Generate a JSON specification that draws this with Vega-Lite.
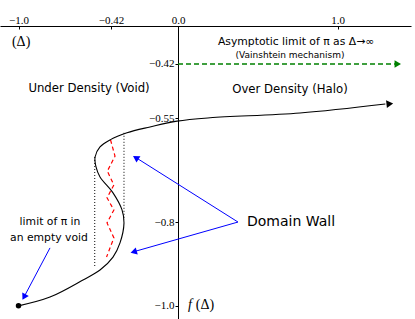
{
  "$schema": "https://vega.github.io/schema/vega-lite/v6.json",
  "width": 411,
  "height": 293,
  "autosize": {"type": "none"},
  "padding": {"left": 0, "top": 26, "right": 4, "bottom": 0},
  "background": "white",
  "config": {"view": {"stroke": null}, "axis": {"grid": false}},
  "datasets": {
    "curve": [
      {"i": 1, "x": -1.0, "y": -1.0},
      {"i": 2, "x": -0.8025, "y": -0.979},
      {"i": 3, "x": -0.5956, "y": -0.938},
      {"i": 4, "x": -0.489, "y": -0.914},
      {"i": 5, "x": -0.4075, "y": -0.883},
      {"i": 6, "x": -0.3636, "y": -0.849},
      {"i": 7, "x": -0.3386, "y": -0.801},
      {"i": 8, "x": -0.351, "y": -0.77},
      {"i": 9, "x": -0.4075, "y": -0.729},
      {"i": 10, "x": -0.489, "y": -0.691},
      {"i": 11, "x": -0.514, "y": -0.667},
      {"i": 12, "x": -0.52, "y": -0.643},
      {"i": 13, "x": -0.489, "y": -0.619},
      {"i": 14, "x": -0.426, "y": -0.602},
      {"i": 15, "x": -0.32, "y": -0.585},
      {"i": 16, "x": -0.1755, "y": -0.571},
      {"i": 17, "x": -0.006, "y": -0.557},
      {"i": 18, "x": 0.201, "y": -0.549},
      {"i": 19, "x": 0.765, "y": -0.5375},
      {"i": 20, "x": 1.3, "y": -0.516}
    ],
    "zig": [
      {"i": 1, "x": -0.423, "y": -0.602},
      {"i": 2, "x": -0.395, "y": -0.641},
      {"i": 3, "x": -0.443, "y": -0.677},
      {"i": 4, "x": -0.402, "y": -0.71},
      {"i": 5, "x": -0.445, "y": -0.741},
      {"i": 6, "x": -0.402, "y": -0.77},
      {"i": 7, "x": -0.445, "y": -0.801},
      {"i": 8, "x": -0.402, "y": -0.837},
      {"i": 9, "x": -0.448, "y": -0.883}
    ],
    "dotted": [
      {"g": "left", "i": 1, "x": -0.522, "y": -0.643},
      {"g": "left", "i": 2, "x": -0.522, "y": -0.909},
      {"g": "right", "i": 1, "x": -0.3386, "y": -0.585},
      {"g": "right", "i": 2, "x": -0.3386, "y": -0.794}
    ],
    "green": [
      {"i": 1, "x": 0.0, "y": -0.42},
      {"i": 2, "x": 1.36, "y": -0.42}
    ],
    "blue": [
      {"g": "dw1", "i": 1, "x": 0.376, "y": -0.799},
      {"g": "dw1", "i": 2, "x": -0.27, "y": -0.643},
      {"g": "dw2", "i": 1, "x": 0.376, "y": -0.799},
      {"g": "dw2", "i": 2, "x": -0.285, "y": -0.871},
      {"g": "lim", "i": 1, "x": -0.8025, "y": -0.861},
      {"g": "lim", "i": 2, "x": -0.97, "y": -0.982}
    ],
    "dot": [{"x": -1.0, "y": -1.0}],
    "headBlack": [{"x": 1.328, "y": -0.5155}],
    "headGreen": [{"x": 1.378, "y": -0.42}],
    "headDW1": [{"x": -0.265, "y": -0.6445}],
    "headDW2": [{"x": -0.278, "y": -0.8705}],
    "headLim": [{"x": -0.9655, "y": -0.9788}],
    "textMid": [
      {"x": -0.558, "y": -0.4776, "label": "Under Density (Void)"},
      {"x": 0.702, "y": -0.48, "label": "Over Density (Halo)"}
    ],
    "textSmall": [
      {"x": 0.74, "y": -0.367, "label": "Asymptotic limit of π as Δ→∞"},
      {"x": -0.8025, "y": -0.799, "label": "limit of π in"},
      {"x": -0.809, "y": -0.837, "label": "an empty void"}
    ],
    "textTiny": [
      {"x": 0.702, "y": -0.398, "label": "(Vainshtein mechanism)"}
    ],
    "textBig": [
      {"x": 0.4326, "y": -0.799, "label": "Domain Wall"}
    ],
    "textSerif": [
      {"x": -1.041, "y": -0.367, "label": "(Δ)"},
      {"x": 0.112, "y": -0.998, "label": "(Δ)"}
    ],
    "textItalic": [
      {"x": 0.0627, "y": -0.998, "label": "f"}
    ]
  },
  "encoding": {
    "x": {
      "field": "x",
      "type": "quantitative",
      "scale": {"domain": [-1.116, 1.4608], "nice": false, "zero": false},
      "axis": {
        "orient": "top",
        "values": [-1, -0.42, 0, 1],
        "title": null,
        "domainColor": "black",
        "tickColor": "black",
        "tickSize": -3,
        "labelPadding": 4,
        "labelFont": "Liberation Serif",
        "labelFontSize": 11,
        "labelColor": "black",
        "labelFlush": false,
        "labelOverlap": false,
        "labelExpr": "datum.value == -0.42 ? '−0.42' : replace(format(datum.value, '.1f'), '-', '−')"
      }
    },
    "y": {
      "field": "y",
      "type": "quantitative",
      "scale": {"domain": [-1.0315, -0.3289], "nice": false, "zero": false},
      "axis": {
        "orient": "left",
        "offset": -178,
        "values": [-0.42, -0.55, -0.8, -1.0],
        "title": null,
        "domainColor": "black",
        "tickColor": "black",
        "tickSize": 3,
        "labelPadding": 1,
        "labelFont": "Liberation Serif",
        "labelFontSize": 11,
        "labelColor": "black",
        "labelFlush": false,
        "labelOverlap": false,
        "labelExpr": "datum.value == -0.8 ? '−0.8' : datum.value == -1 ? '−1.0' : replace(format(datum.value, '.2f'), '-', '−')"
      }
    }
  },
  "layer": [
    {
      "data": {"name": "green"},
      "mark": {"type": "line", "color": "#008000", "strokeWidth": 1.3, "strokeDash": [5, 3]},
      "encoding": {"order": {"field": "i"}}
    },
    {
      "data": {"name": "headGreen"},
      "mark": {"type": "point", "shape": "triangle-right", "filled": true, "color": "#008000", "size": 55, "opacity": 1}
    },
    {
      "data": {"name": "dotted"},
      "mark": {"type": "line", "color": "black", "strokeWidth": 1, "strokeDash": [1, 2]},
      "encoding": {"detail": {"field": "g"}, "order": {"field": "i"}}
    },
    {
      "data": {"name": "zig"},
      "mark": {"type": "line", "color": "#ff0000", "strokeWidth": 1.2, "strokeDash": [4, 3]},
      "encoding": {"order": {"field": "i"}}
    },
    {
      "data": {"name": "curve"},
      "mark": {"type": "line", "color": "black", "strokeWidth": 1.1, "interpolate": "catmull-rom"},
      "encoding": {"order": {"field": "i"}}
    },
    {
      "data": {"name": "headBlack"},
      "mark": {"type": "point", "shape": "triangle-right", "filled": true, "color": "black", "size": 60, "angle": 354, "opacity": 1}
    },
    {
      "data": {"name": "dot"},
      "mark": {"type": "point", "shape": "circle", "filled": true, "color": "black", "size": 30, "opacity": 1}
    },
    {
      "data": {"name": "blue"},
      "mark": {"type": "line", "color": "#0000ff", "strokeWidth": 1},
      "encoding": {"detail": {"field": "g"}, "order": {"field": "i"}}
    },
    {
      "data": {"name": "headDW1"},
      "mark": {"type": "point", "shape": "triangle-right", "filled": true, "color": "#0000ff", "size": 55, "angle": 212, "opacity": 1}
    },
    {
      "data": {"name": "headDW2"},
      "mark": {"type": "point", "shape": "triangle-right", "filled": true, "color": "#0000ff", "size": 55, "angle": 164, "opacity": 1}
    },
    {
      "data": {"name": "headLim"},
      "mark": {"type": "point", "shape": "triangle-right", "filled": true, "color": "#0000ff", "size": 55, "angle": 118, "opacity": 1}
    },
    {
      "data": {"name": "textMid"},
      "mark": {"type": "text", "font": "DejaVu Sans", "fontSize": 11.7, "color": "black", "baseline": "middle"},
      "encoding": {"text": {"field": "label"}}
    },
    {
      "data": {"name": "textSmall"},
      "mark": {"type": "text", "font": "DejaVu Sans", "fontSize": 10.8, "color": "black", "baseline": "middle"},
      "encoding": {"text": {"field": "label"}}
    },
    {
      "data": {"name": "textTiny"},
      "mark": {"type": "text", "font": "DejaVu Sans", "fontSize": 9, "color": "black", "baseline": "middle"},
      "encoding": {"text": {"field": "label"}}
    },
    {
      "data": {"name": "textBig"},
      "mark": {"type": "text", "font": "DejaVu Sans", "fontSize": 14, "color": "black", "baseline": "middle", "align": "left"},
      "encoding": {"text": {"field": "label"}}
    },
    {
      "data": {"name": "textSerif"},
      "mark": {"type": "text", "font": "Liberation Serif", "fontSize": 14, "color": "black", "baseline": "middle", "align": "left"},
      "encoding": {"text": {"field": "label"}}
    },
    {
      "data": {"name": "textItalic"},
      "mark": {"type": "text", "font": "Liberation Serif", "fontSize": 14, "fontStyle": "italic", "color": "black", "baseline": "middle", "align": "left"},
      "encoding": {"text": {"field": "label"}}
    }
  ]
}
